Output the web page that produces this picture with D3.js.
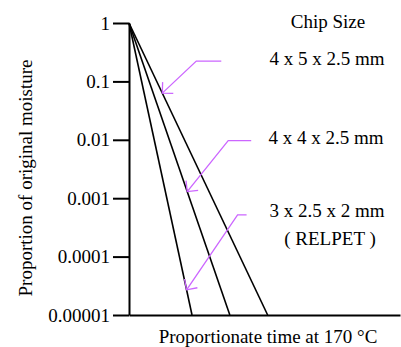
<!DOCTYPE html>
<html>
<head>
<meta charset="utf-8">
<script src="https://cdn.jsdelivr.net/npm/d3@7"></script>
<style>
  body { margin: 0; background: #fff; }
  svg { display: block; }
  text { font-family: "Liberation Serif", "Times New Roman", serif; fill: #000; }
</style>
</head>
<body>
<div class="container"></div>
<script>
// chip sizes and how long each takes to dry to 1e-5 (proportionate time)
const chipSizes = ["3 x 2.5 x 2 mm", "4 x 4 x 2.5 mm", "4 x 5 x 2.5 mm"];
const dryTimes = [1.0, 1.6, 2.2];
const startMoisture = 1;
const endMoisture = 0.00001;
const yTicks = [1, 0.1, 0.01, 0.001, 0.0001, 0.00001];
const yTickLabels = ["1", "0.1", "0.01", "0.001", "0.0001", "0.00001"];
// moisture level where each label arrow touches its line
const arrowAt = [0.000027, 0.0013, 0.063];

function main() {
  const width = 401;
  const height = 347;
  const margin = { left: 129, right: 1, top: 23, bottom: 32 };

  const svg = d3
    .create("svg")
    .attr("width", width)
    .attr("height", height)
    .attr("viewBox", [0, 0, width, height]);

  const x = d3
    .scaleLinear()
    .domain([0, 4.3])
    .range([margin.left, width - margin.right]);

  const y = d3
    .scaleLog()
    .domain([endMoisture, startMoisture])
    .range([height - margin.bottom, margin.top]);

  // y axis
  const yAxis = d3
    .axisLeft(y)
    .tickValues(yTicks)
    .tickFormat((d, i) => yTickLabels[i])
    .tickSize(16)
    .tickPadding(3)
    .tickSizeOuter(0);

  svg
    .append("g")
    .attr("transform", `translate(${margin.left},0)`)
    .call(yAxis)
    .call((g) => g.selectAll("path, line").attr("stroke", "#000").attr("stroke-width", 2))
    .call((g) =>
      g
        .selectAll("text")
        .style("font-family", "Liberation Serif, serif")
        .style("font-size", "19px")
        .attr("fill", "#000")
    );

  // x axis (no ticks)
  svg
    .append("g")
    .attr("transform", `translate(0,${y(endMoisture)})`)
    .call(d3.axisBottom(x).tickValues([]).tickSizeOuter(0))
    .call((g) => g.select(".domain").attr("stroke", "#000").attr("stroke-width", 2));

  const series = chipSizes.map((name, i) => ({
    name,
    values: [
      { t: 0, m: startMoisture },
      { t: dryTimes[i], m: endMoisture },
    ],
  }));

  const line = d3
    .line()
    .x((d) => x(d.t))
    .y((d) => y(d.m));

  svg
    .append("g")
    .selectAll("path")
    .data(series)
    .join("path")
    .attr("d", (d) => line(d.values))
    .attr("fill", "none")
    .attr("stroke", "#000")
    .attr("stroke-width", 1.6);

  // violet pointer arrows from label to line
  const elbow = [[51, -75, 9], [41, -51, 23], [34, -32, 25]];
  const arrows = svg.append("g").attr("stroke", "#cc66ff").attr("stroke-width", 1.3).attr("fill", "none");
  series.forEach((s, i) => {
    const m = arrowAt[i];
    const frac = (Math.log10(m) - Math.log10(startMoisture)) / (Math.log10(endMoisture) - Math.log10(startMoisture));
    const tx = x(frac * dryTimes[i]);
    const ty = y(m);
    const [ex, ey, hx] = elbow[i];
    arrows
      .append("path")
      .attr("d", `M${tx + ex + hx},${ty + ey}H${tx + ex}L${tx},${ty}`);
    const ang = Math.atan2(ey, ex);
    const len = 11;
    const a1 = ang + Math.PI / 4;
    const a2 = ang - Math.PI / 4;
    arrows
      .append("path")
      .attr(
        "d",
        `M${tx + len * Math.cos(a1)},${ty + len * Math.sin(a1)}L${tx},${ty}L${tx + len * Math.cos(a2)},${ty + len * Math.sin(a2)}`
      );
  });

  // legend text
  const labels = svg.append("g").style("font-size", "19px").attr("text-anchor", "middle");
  labels.append("text").attr("x", 328).attr("y", 28).text("Chip Size");
  labels.append("text").attr("x", 327).attr("y", 65).text(chipSizes[2]);
  labels.append("text").attr("x", 326).attr("y", 144).text(chipSizes[1]);
  labels.append("text").attr("x", 327).attr("y", 217).text(chipSizes[0]);
  labels.append("text").attr("x", 330).attr("y", 245).text("( RELPET )");

  // axis titles
  svg
    .append("text")
    .attr("x", 268)
    .attr("y", 343)
    .attr("text-anchor", "middle")
    .style("font-size", "19px")
    .text("Proportionate time at 170 °C");

  svg
    .append("text")
    .attr("transform", "translate(32,178) rotate(-90)")
    .attr("text-anchor", "middle")
    .style("font-size", "19px")
    .text("Proportion of original moisture");

  document.querySelector(".container").append(svg.node());
}

main();
</script>
</body>
</html>
